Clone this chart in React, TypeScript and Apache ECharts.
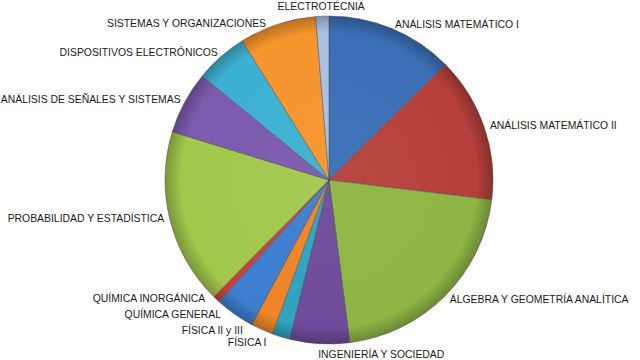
import React, { useEffect, useRef } from "react";
import * as echarts from "echarts";

const categories = [
  "ANÁLISIS MATEMÁTICO I",
  "ANÁLISIS MATEMÁTICO II",
  "ÁLGEBRA Y GEOMETRÍA ANALÍTICA",
  "INGENIERÍA Y SOCIEDAD",
  "FÍSICA I",
  "FÍSICA II y III",
  "QUÍMICA GENERAL",
  "QUÍMICA INORGÁNICA",
  "PROBABILIDAD Y ESTADÍSTICA",
  "ANÁLISIS DE SEÑALES Y SISTEMAS",
  "DISPOSITIVOS ELECTRÓNICOS",
  "SISTEMAS Y ORGANIZACIONES",
  "ELECTROTÉCNIA",
];

const values = [12.6, 14.4, 21.1, 5.9, 1.75, 2.2, 3.9, 0.7, 17.4, 6.2, 5.2, 7.6, 1.3];

const colors = [
  "#3B6FB6",
  "#B5403B",
  "#8FB644",
  "#6F4C9B",
  "#2FA3C0",
  "#EE8526",
  "#3D7ED1",
  "#C8413C",
  "#A2C84C",
  "#7C5AAE",
  "#3DB1D3",
  "#F7952D",
  "#A9C0E3",
];

const CX = 329;
const CY = 180;
const R = 164;

function shade(hex: string, f: number): string {
  const n = parseInt(hex.slice(1), 16);
  let r = (n >> 16) & 255, g = (n >> 8) & 255, b = n & 255;
  if (f < 0) {
    r = Math.round(r * (1 + f)); g = Math.round(g * (1 + f)); b = Math.round(b * (1 + f));
  } else {
    r = Math.round(r + (255 - r) * f); g = Math.round(g + (255 - g) * f); b = Math.round(b + (255 - b) * f);
  }
  return `rgb(${r},${g},${b})`;
}

export default function App() {
  const ref = useRef<HTMLDivElement>(null);
  useEffect(() => {
    if (!ref.current) return;
    const chart = echarts.init(ref.current, null, { renderer: "svg" });
    const data = categories.map((name, i) => ({
      name,
      value: values[i],
      itemStyle: {
        color: {
          type: "radial",
          x: CX,
          y: CY,
          r: R,
          global: true,
          colorStops: [
            { offset: 0, color: shade(colors[i], 0.04) },
            { offset: 0.9, color: colors[i] },
            { offset: 1, color: shade(colors[i], -0.25) },
          ],
        },
      },
    }));
    chart.setOption({
      animation: false,
      backgroundColor: "#ffffff",
      series: [
        {
          type: "pie",
          center: [CX, CY],
          radius: R,
          startAngle: 90,
          clockwise: true,
          avoidLabelOverlap: true,
          data,
          itemStyle: {
            borderColor: "rgba(70,70,70,0.55)",
            borderWidth: 0.8,
          },
          label: {
            show: true,
            position: "outside",
            color: "#1a1a1a",
            fontFamily: "Liberation Sans, Arial, sans-serif",
            fontSize: 10.4,
            overflow: "none",
            distanceToLabelLine: 1,
          },
          labelLine: { show: false, length: 5, length2: 0 },
          labelLayout: (p: any) => {
            if (p.dataIndex === 3) return { align: "left" };
            if (p.dataIndex === 12) return { align: "center", dy: -5 };
            return {};
          },
          emphasis: { disabled: true },
        },
      ],
    });
    return () => chart.dispose();
  }, []);
  return (
    <div
      ref={ref}
      style={{ position: "fixed", left: 0, top: 0, width: 640, height: 360 }}
    />
  );
}
